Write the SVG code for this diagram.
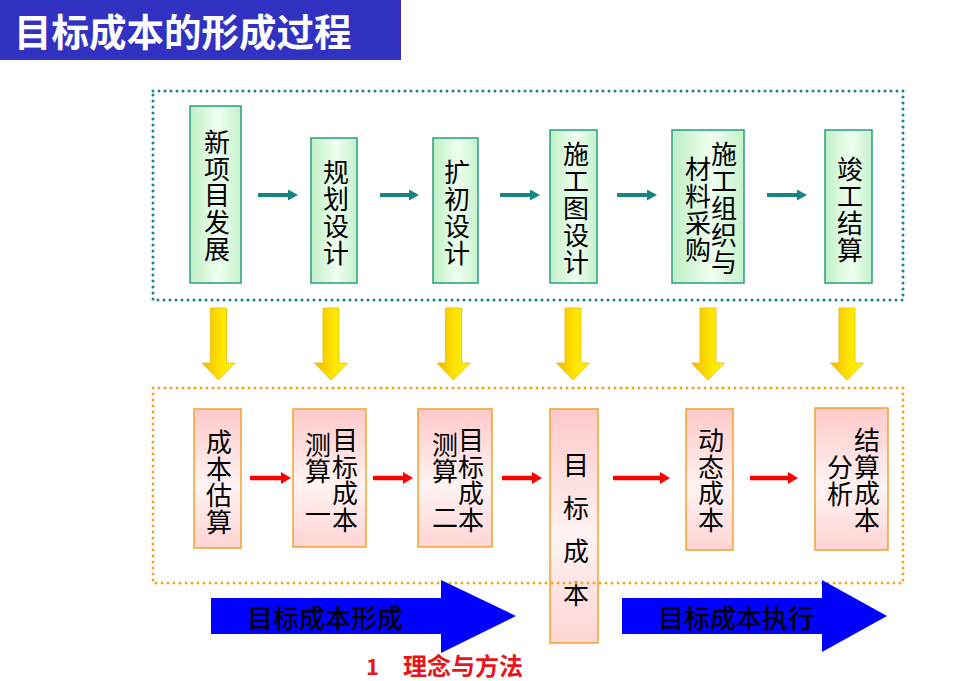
<svg xmlns="http://www.w3.org/2000/svg" width="966" height="681" viewBox="0 0 966 681">
<defs>
<linearGradient id="gGreen" x1="0" y1="0" x2="1" y2="0">
<stop offset="0" stop-color="#bff0c4"/><stop offset="0.55" stop-color="#effff0"/><stop offset="1" stop-color="#c6f2ca"/>
</linearGradient>
<linearGradient id="gPink" x1="0" y1="0" x2="0" y2="1">
<stop offset="0" stop-color="#ffc9c9"/><stop offset="0.55" stop-color="#fff3f3"/><stop offset="1" stop-color="#ffd4d4"/>
</linearGradient>
<linearGradient id="gYellow" x1="0" y1="0" x2="1" y2="0">
<stop offset="0" stop-color="#f2b800"/><stop offset="0.6" stop-color="#ffe800"/><stop offset="1" stop-color="#fff200"/>
</linearGradient>
<marker id="ahTeal" viewBox="0 0 10 11" markerWidth="10" markerHeight="11" markerUnits="userSpaceOnUse" refX="2" refY="5.5" orient="auto">
<path d="M0,0 L10,5.5 L0,11 Z" fill="#178383"/>
</marker>
<marker id="ahRed" viewBox="0 0 10 12" markerWidth="10" markerHeight="12" markerUnits="userSpaceOnUse" refX="2" refY="6" orient="auto">
<path d="M0,0 L10,6 L0,12 Z" fill="#ff0000"/>
</marker>
</defs>
<style>
.t{font-family:"Noto Sans CJK SC","Liberation Serif",serif;font-size:26px;fill:#000;text-anchor:middle}
.gbox{fill:url(#gGreen);stroke:#2a9c84;stroke-width:1.5}
.pbox{fill:url(#gPink);stroke:#f2a22c;stroke-width:1.5}
.teal{stroke:#178383;stroke-width:4;fill:none;marker-end:url(#ahTeal)}
.red{stroke:#ff0000;stroke-width:4.5;fill:none;marker-end:url(#ahRed)}
.yarrow{fill:url(#gYellow);stroke:#f0b800;stroke-width:0.8}
.barrow{fill:#0000ff}
.frame{fill:none;stroke-width:3;stroke-dasharray:0 6;stroke-linecap:round}
.bt{font-family:"Noto Sans CJK SC","Liberation Serif",serif;font-size:26px;font-weight:500;fill:#000;text-anchor:middle}
</style>

<g id="title">
<rect x="0" y="0" width="401" height="60" fill="#3131c2"/>
<text x="14" y="46" style="font-family:'Noto Sans CJK SC','Liberation Sans',sans-serif;font-size:37.5px;font-weight:bold;fill:#fff">目标成本的形成过程</text>
</g>

<g id="n-xinxiangmu">
<rect class="gbox" x="190" y="106" width="51" height="177"/>
<text class="t"><tspan x="217" y="152">新</tspan><tspan x="217" y="178.7">项</tspan><tspan x="217" y="205.4">目</tspan><tspan x="217" y="232">发</tspan><tspan x="217" y="258.7">展</tspan></text>
</g>
<g id="n-guihua">
<rect class="gbox" x="311" y="138" width="46" height="145"/>
<text class="t"><tspan x="336" y="182">规</tspan><tspan x="336" y="209">划</tspan><tspan x="336" y="236">设</tspan><tspan x="336" y="263">计</tspan></text>
</g>
<g id="n-kuochu">
<rect class="gbox" x="433" y="138" width="45" height="145"/>
<text class="t"><tspan x="457" y="182">扩</tspan><tspan x="457" y="209">初</tspan><tspan x="457" y="236">设</tspan><tspan x="457" y="263">计</tspan></text>
</g>
<g id="n-shigongtu">
<rect class="gbox" x="550" y="130" width="47" height="153"/>
<text class="t"><tspan x="576" y="164">施</tspan><tspan x="576" y="191">工</tspan><tspan x="576" y="218">图</tspan><tspan x="576" y="245">设</tspan><tspan x="576" y="272">计</tspan></text>
</g>
<g id="n-shigongzuzhi">
<rect class="gbox" x="672" y="130" width="72" height="153"/>
<text class="t"><tspan x="724" y="164">施</tspan><tspan x="724" y="191">工</tspan><tspan x="724" y="218">组</tspan><tspan x="724" y="245">织</tspan><tspan x="724" y="272">与</tspan></text>
<text class="t"><tspan x="698" y="178.5">材</tspan><tspan x="698" y="205.5">料</tspan><tspan x="698" y="232.5">采</tspan><tspan x="698" y="259.5">购</tspan></text>
</g>
<g id="n-jungong">
<rect class="gbox" x="825" y="130" width="47" height="153"/>
<text class="t"><tspan x="850" y="178.5">竣</tspan><tspan x="850" y="205.5">工</tspan><tspan x="850" y="232.5">结</tspan><tspan x="850" y="259.5">算</tspan></text>
</g>

<g id="n-gusuan">
<rect class="pbox" x="194" y="409" width="47" height="139"/>
<text class="t"><tspan x="219" y="452">成</tspan><tspan x="219" y="478.7">本</tspan><tspan x="219" y="505.4">估</tspan><tspan x="219" y="532">算</tspan></text>
</g>
<g id="n-cesuan1">
<rect class="pbox" x="293" y="409" width="73" height="138"/>
<text class="t"><tspan x="345" y="450">目</tspan><tspan x="345" y="476.7">标</tspan><tspan x="345" y="503.4">成</tspan><tspan x="345" y="530">本</tspan></text>
<text class="t"><tspan x="318" y="455">测</tspan><tspan x="318" y="481">算</tspan><tspan x="318" y="524">一</tspan></text>
</g>
<g id="n-cesuan2">
<rect class="pbox" x="418" y="409" width="74" height="138"/>
<text class="t"><tspan x="471" y="450">目</tspan><tspan x="471" y="476.7">标</tspan><tspan x="471" y="503.4">成</tspan><tspan x="471" y="530">本</tspan></text>
<text class="t"><tspan x="445" y="455">测</tspan><tspan x="445" y="481">算</tspan><tspan x="445" y="527">二</tspan></text>
</g>
<g id="n-mubiao">
<rect class="pbox" x="550" y="409" width="48" height="234"/>
<text class="t"><tspan x="576" y="475">目</tspan><tspan x="576" y="518">标</tspan><tspan x="576" y="561">成</tspan><tspan x="576" y="604">本</tspan></text>
</g>
<g id="n-dongtai">
<rect class="pbox" x="686" y="409" width="47" height="141"/>
<text class="t"><tspan x="711" y="450">动</tspan><tspan x="711" y="476.7">态</tspan><tspan x="711" y="503.4">成</tspan><tspan x="711" y="530">本</tspan></text>
</g>
<g id="n-jiesuan">
<rect class="pbox" x="815" y="408" width="73" height="142"/>
<text class="t"><tspan x="867" y="450">结</tspan><tspan x="867" y="476.7">算</tspan><tspan x="867" y="503.4">成</tspan><tspan x="867" y="530">本</tspan></text>
<text class="t"><tspan x="840" y="477">分</tspan><tspan x="840" y="504">析</tspan></text>
</g>

<g id="frames">
<rect class="frame" x="153" y="91" width="750" height="209" stroke="#178585"/>
<rect class="frame" x="153" y="388" width="750" height="195" stroke="#f0a42a"/>
</g>

<g id="connectors">
<path class="teal" d="M258,195 H290"/>
<path class="teal" d="M380,195 H411"/>
<path class="teal" d="M500,195 H532"/>
<path class="teal" d="M617,195 H649"/>
<path class="teal" d="M767,195 H799"/>
<path class="red" d="M250,478 H283"/>
<path class="red" d="M373,478 H405"/>
<path class="red" d="M502,478 H534"/>
<path class="red" d="M613,478 H662"/>
<path class="red" d="M750,478 H790"/>
<polygon class="yarrow" points="210.5,308 226.5,308 226.5,363 235,363 218.5,380 202,363 210.5,363"/>
<polygon class="yarrow" points="323,308 339,308 339,363 347.5,363 331,380 314.5,363 323,363"/>
<polygon class="yarrow" points="445.5,308 461.5,308 461.5,363 470,363 453.5,380 437,363 445.5,363"/>
<polygon class="yarrow" points="565,308 581,308 581,363 589.5,363 573,380 556.5,363 565,363"/>
<polygon class="yarrow" points="700,308 716,308 716,363 724.5,363 708,380 691.5,363 700,363"/>
<polygon class="yarrow" points="839,308 855,308 855,363 863.5,363 847,380 830.5,363 839,363"/>
</g>

<g id="a-xingcheng">
<polygon class="barrow" points="211,598 441,598 441,580 516,616 441,653 441,634 211,634"/>
<text class="bt" x="325" y="628">目标成本形成</text>
</g>
<g id="a-zhixing">
<polygon class="barrow" points="622,598 822,598 822,580 887,616 822,652 822,634 622,634"/>
<text class="bt" x="736" y="628">目标成本执行</text>
</g>

<g id="caption">
<text x="366" y="675" style="font-family:'Noto Sans CJK SC','Liberation Sans',sans-serif;font-size:22px;font-weight:bold;fill:#e8141c">1</text>
<text x="403" y="675" style="font-family:'Noto Sans CJK SC','Liberation Sans',sans-serif;font-size:24px;font-weight:bold;fill:#e8141c">理念与方法</text>
</g>
</svg>
